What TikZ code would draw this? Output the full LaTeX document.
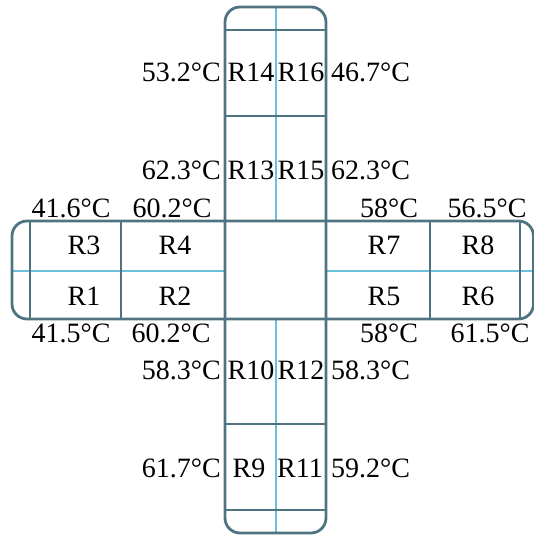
\documentclass[tikz,border=0pt]{standalone}
\usepackage{fontspec}
\setmainfont{Liberation Serif}
\definecolor{wallcol}{RGB}{80,115,130}
\definecolor{splitcol}{RGB}{110,192,218}

\begin{document}
\begin{tikzpicture}[x=1pt, y=-1pt,
    outerwall/.style={draw=wallcol, line width=2.8pt, rounded corners=15pt},
    innerwall/.style={draw=wallcol, line width=2pt},
    splitline/.style={draw=splitcol, line width=1.3pt},
    room/.style={inner sep=0pt, font=\fontsize{28}{30}\selectfont},
    temp/.style={inner sep=0pt, font=\fontsize{28}{30}\selectfont}]
  \useasboundingbox (0,0) rectangle (533,535);

  \draw[splitline] (276,7) -- (276,221);
  \draw[splitline] (276,319) -- (276,533);
  \draw[splitline] (12,271) -- (225,271);
  \draw[splitline] (326,271) -- (533,271);

  \draw[outerwall] (225,7) rectangle (326,533);
  \draw[outerwall] (12,221) rectangle (533.5,319);
  \foreach \y in {30,116,424,510}
    \draw[innerwall] (225,\y) -- (326,\y);
  \foreach \x in {30,121,430,520}
    \draw[innerwall] (\x,221) -- (\x,319);

  % vertical arm
  \node[room] (r14) at (251,72) {R14};
  \node[room] (r16) at (301,72) {R16};
  \node[room] (r13) at (251,170) {R13};
  \node[room] (r15) at (301,170) {R15};
  \node[room] (r10) at (251,370) {R10};
  \node[room] (r12) at (301,370) {R12};
  \node[room] (r9) at (249,468) {R9};
  \node[room] (r11) at (300,468) {R11};

  \node[temp, anchor=east] (t14) at (221,72) {53.2°C};
  \node[temp, anchor=west] (t16) at (331,72) {46.7°C};
  \node[temp, anchor=east] (t13) at (221,170) {62.3°C};
  \node[temp, anchor=west] (t15) at (331,170) {62.3°C};
  \node[temp, anchor=east] (t10) at (221,370) {58.3°C};
  \node[temp, anchor=west] (t12) at (331,370) {58.3°C};
  \node[temp, anchor=east] (t9) at (221,468) {61.7°C};
  \node[temp, anchor=west] (t11) at (331,468) {59.2°C};

  % horizontal arm
  \node[room] (r3) at (84,245) {R3};
  \node[room] (r4) at (175,245) {R4};
  \node[room] (r7) at (384,245) {R7};
  \node[room] (r8) at (478,245) {R8};
  \node[room] (r1) at (84,296) {R1};
  \node[room] (r2) at (175,296) {R2};
  \node[room] (r5) at (384,296) {R5};
  \node[room] (r6) at (478,296) {R6};

  \node[temp] (t3) at (71,208) {41.6°C};
  \node[temp] (t4) at (172,208) {60.2°C};
  \node[temp] (t7) at (389,208) {58°C};
  \node[temp] (t8) at (487,208) {56.5°C};
  \node[temp] (t1) at (71,333) {41.5°C};
  \node[temp] (t2) at (171,333) {60.2°C};
  \node[temp] (t5) at (389,333) {58°C};
  \node[temp] (t6) at (490,333) {61.5°C};
\end{tikzpicture}
\end{document}
